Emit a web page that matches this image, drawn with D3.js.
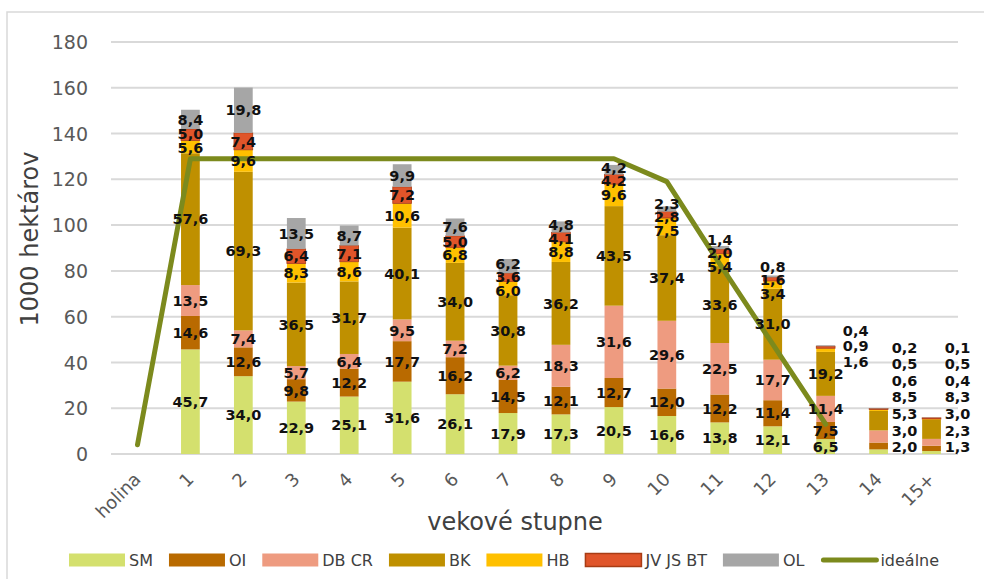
<!DOCTYPE html>
<html>
<head>
<meta charset="utf-8">
<script src="https://cdn.jsdelivr.net/npm/d3@7"></script>
<style>
  html, body { margin: 0; padding: 0; background: #fff; }
  svg { display: block; font-family: "DejaVu Sans", sans-serif; }
</style>
</head>
<body>
<svg id="chart" width="984" height="579"></svg>
<script>
// ---------- data ----------
const categories = ["holina","1","2","3","4","5","6","7","8","9","10","11","12","13","14","15+"];
const seriesNames = ["SM","OI","DB CR","BK","HB","JV JS BT","OL"];
const SM   = [null,45.7,34.0,22.9,25.1,31.6,26.1,17.9,17.3,20.5,16.6,13.8,12.1,6.5,2.0,1.3];
const OI   = [null,14.6,12.6, 9.8,12.2,17.7,16.2,14.5,12.1,12.7,12.0,12.2,11.4,7.5,3.0,2.3];
const DBCR = [null,13.5, 7.4, 5.7, 6.4, 9.5, 7.2, 6.2,18.3,31.6,29.6,22.5,17.7,11.4,5.3,3.0];
const BK   = [null,57.6,69.3,36.5,31.7,40.1,34.0,30.8,36.2,43.5,37.4,33.6,31.0,19.2,8.5,8.3];
const HB   = [null, 5.6, 9.6, 8.3, 8.6,10.6, 6.8, 6.0, 8.8, 9.6, 7.5, 5.4, 3.4,1.6,0.6,0.4];
const JVJSBT=[null, 5.0, 7.4, 6.4, 7.1, 7.2, 5.0, 3.6, 4.1, 4.2, 2.8, 2.0, 1.6,0.9,0.5,0.5];
const OL   = [null, 8.4,19.8,13.5, 8.7, 9.9, 7.6, 6.2, 4.8, 4.2, 2.3, 1.4, 0.8,0.4,0.2,0.1];
const idealne = [4,129,129,129,129,129,129,129,129,129,119,83,48,13,null,null];
const yTicks = [0,20,40,60,80,100,120,140,160,180];
const seriesValues = [SM, OI, DBCR, BK, HB, JVJSBT, OL];
const colors = ["#d4e06e","#b96a00","#ee9b80","#bf9000","#ffc000","#e0552a","#a6a6a6"];
const lineColor = "#7c8a1d";

// ---------- layout ----------
const svg = d3.select("#chart");
const W = 984, H = 579;
const mLeft = 111, mRight = 958, mTop = 42, mBottom = 454;

// frame
svg.append("rect").attr("x", 7).attr("y", 12).attr("width", W + 10).attr("height", H + 10)
  .attr("fill", "none").attr("stroke", "#d9d9d9").attr("stroke-width", 1.5);

const x = d3.scaleBand().domain(categories).range([mLeft, mRight]).padding(0);
const y = d3.scaleLinear().domain([0, 180]).range([mBottom, mTop]);
const barW = x.bandwidth() * 0.354;
const cx = c => x(c) + x.bandwidth() / 2;

// gridlines
svg.append("g").selectAll("line").data(yTicks).join("line")
  .attr("x1", mLeft).attr("x2", mRight)
  .attr("y1", d => y(d)).attr("y2", d => y(d))
  .attr("stroke", "#d9d9d9").attr("stroke-width", 2);

// y axis labels
const yAxis = d3.axisLeft(y).tickValues(yTicks).tickSize(0).tickPadding(0);
const yg = svg.append("g").attr("transform", `translate(${88},0)`).call(yAxis);
yg.select(".domain").remove();
yg.selectAll("text").attr("fill", "#595959").style("font-size", "19px")
  .style("font-family", "DejaVu Sans, sans-serif").attr("dy", "0.35em");

// x axis labels (rotated)
svg.append("g").selectAll("text").data(categories).join("text")
  .attr("transform", d => `translate(${cx(d)},${mBottom + 22}) rotate(-45)`)
  .attr("text-anchor", "end").attr("dy", "0.35em")
  .attr("fill", "#595959").style("font-size", "18px")
  .text(d => d);

// stacked data
const table = categories.map((c, i) => {
  const row = { cat: c };
  seriesNames.forEach((s, k) => row[s] = seriesValues[k][i] || 0);
  return row;
});
const stacked = d3.stack().keys(seriesNames)(table);

// bars
stacked.forEach((layer, k) => {
  svg.append("g").selectAll("rect").data(layer.filter(d => d[1] - d[0] > 0)).join("rect")
    .attr("x", d => cx(d.data.cat) - barW / 2)
    .attr("width", barW)
    .attr("y", d => y(d[1]))
    .attr("height", d => y(d[0]) - y(d[1]))
    .attr("fill", colors[k])
    .attr("stroke", k === 5 ? "#a83c14" : "none")
    .attr("stroke-width", k === 5 ? 0.8 : 0);
});

// ideal line
const lineGen = d3.line()
  .defined(d => d.v !== null)
  .x(d => cx(d.c)).y(d => y(d.v));
svg.append("path")
  .datum(categories.map((c, i) => ({ c, v: idealne[i] })))
  .attr("d", lineGen)
  .attr("fill", "none").attr("stroke", lineColor).attr("stroke-width", 5)
  .attr("stroke-linejoin", "round").attr("stroke-linecap", "round");

// data labels
const fmt = v => v.toFixed(1).replace(".", ",");
const labels = [];
categories.forEach((c, i) => {
  const segs = seriesNames.map((s, k) => {
    const layerPt = stacked[k][i];
    return { v: seriesValues[k][i], y0: layerPt[0], y1: layerPt[1], k };
  }).filter(d => d.v !== null && d.v !== undefined);
  if (!segs.length) return;
  const xc = cx(c);
  if (c === "14" || c === "15+") {
    segs.forEach((d, j) => labels.push({ x: xc + 26, y: y(0) - 7 - j * 16.6, t: fmt(d.v) }));
    return;
  }
  let main = segs, side = [];
  if (c === "13") { main = segs.slice(0, 4); side = segs.slice(4); }
  const ys = main.map(d => y((d.y0 + d.y1) / 2));
  const minGap = 13.5;
  for (let it = 0; it < 60; it++) {
    for (let j = 0; j < ys.length - 1; j++) {
      const gap = ys[j] - ys[j + 1];
      if (gap < minGap) { const dd = (minGap - gap) / 2; ys[j] += dd; ys[j + 1] -= dd; }
    }
  }
  main.forEach((d, j) => labels.push({ x: xc, y: ys[j], t: fmt(d.v) }));
  const topY = y(segs[segs.length - 1].y1);
  const sideOffsets = [17, 1, -14];
  side.forEach((d, j) => labels.push({ x: xc + 30, y: topY + sideOffsets[j], t: fmt(d.v) }));
});
svg.append("g").selectAll("text").data(labels).join("text")
  .attr("x", d => d.x).attr("y", d => d.y).attr("dy", "0.36em")
  .attr("text-anchor", "middle")
  .style("font-size", "14.5px").style("font-weight", "bold").attr("fill", "#111")
  .text(d => d.t);

// axis titles
svg.append("text").attr("x", 515).attr("y", 530).attr("text-anchor", "middle")
  .attr("fill", "#404040").style("font-size", "24px").text("vekové stupne");
svg.append("text").attr("transform", `translate(38,239) rotate(-90)`).attr("text-anchor", "middle")
  .attr("fill", "#404040").style("font-size", "24px").text("1000 hektárov");

// legend
const legItems = seriesNames.map((s, k) => ({ name: s, color: colors[k], type: "rect", k }))
  .concat([{ name: "ideálne", color: lineColor, type: "line" }]);
const lg = svg.append("g");
let lx = 69;
const ly = 560;
legItems.forEach(it => {
  if (it.type === "rect") {
    lg.append("rect").attr("x", lx).attr("y", ly - 6.5).attr("width", 56).attr("height", 13)
      .attr("fill", it.color)
      .attr("stroke", it.k === 5 ? "#a83c14" : "none").attr("stroke-width", 1.5);
  } else {
    lg.append("line").attr("x1", lx + 3).attr("x2", lx + 56).attr("y1", ly).attr("y2", ly)
      .attr("stroke", it.color).attr("stroke-width", 5).attr("stroke-linecap", "round");
  }
  const t = lg.append("text").attr("x", lx + 60).attr("y", ly).attr("dy", "0.35em")
    .attr("fill", "#404040").style("font-size", "16px").text(it.name);
  lx += 60 + t.node().getComputedTextLength() + 16;
});
</script>
</body>
</html>
